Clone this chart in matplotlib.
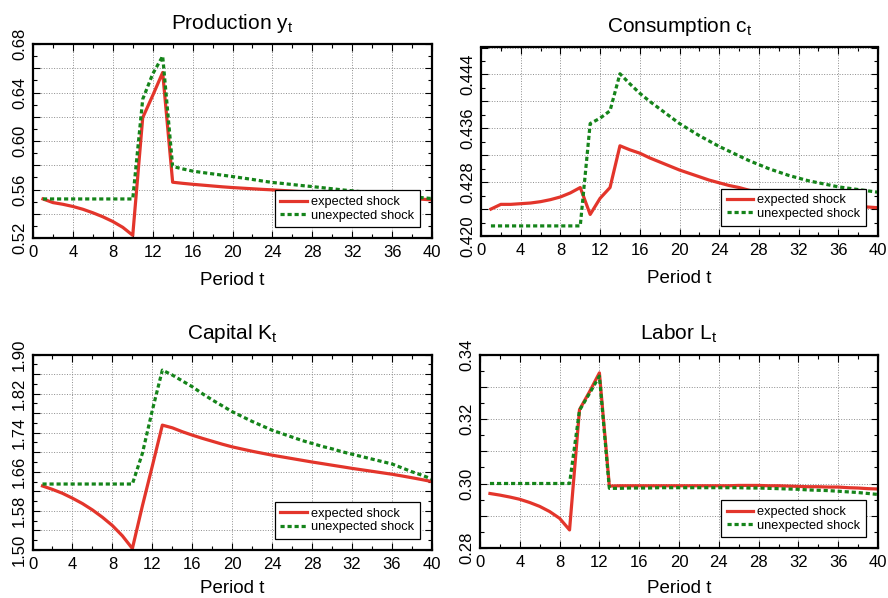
import matplotlib
matplotlib.use('Agg')   # no display
import matplotlib.pyplot as plt
from matplotlib.ticker import MultipleLocator
import numpy as np

plt.rcParams['font.family'] = ['Liberation Sans', 'DejaVu Sans']

periods = np.arange(1, 41)

# Production y_t
prod_expected = [0.5522, 0.5492, 0.5478, 0.5460, 0.5437, 0.5408, 0.5375, 0.5336, 0.5288, 0.5222,
                 0.6193, 0.6375, 0.6565, 0.5660, 0.5651, 0.5643, 0.5636, 0.5629, 0.5622, 0.5616,
                 0.5611, 0.5606, 0.5601, 0.5597, 0.5592, 0.5587, 0.5582, 0.5577, 0.5572, 0.5567,
                 0.5562, 0.5557, 0.5552, 0.5547, 0.5542, 0.5537, 0.5532, 0.5526, 0.5520, 0.5514]
prod_unexpected = [0.5522, 0.5522, 0.5522, 0.5522, 0.5522, 0.5522, 0.5522, 0.5522, 0.5522, 0.5522,
                   0.6345, 0.6553, 0.6700, 0.5790, 0.5770, 0.5752, 0.5740, 0.5729, 0.5718, 0.5707,
                   0.5695, 0.5683, 0.5670, 0.5658, 0.5650, 0.5641, 0.5632, 0.5624, 0.5615, 0.5606,
                   0.5597, 0.5589, 0.5581, 0.5573, 0.5565, 0.5557, 0.5549, 0.5541, 0.5533, 0.5525]

# Consumption c_t
cons_expected = [0.4240, 0.4247, 0.4247, 0.4248, 0.4249, 0.4251, 0.4254, 0.4258, 0.4264, 0.4272,
                 0.4232, 0.4256, 0.4272, 0.4334, 0.4328, 0.4323, 0.4316, 0.4310, 0.4304, 0.4298,
                 0.4293, 0.4288, 0.4283, 0.4279, 0.4275, 0.4272, 0.4268, 0.4265, 0.4262, 0.4259,
                 0.4257, 0.4255, 0.4253, 0.4251, 0.4249, 0.4247, 0.4246, 0.4244, 0.4243, 0.4242]
cons_unexpected = [0.4215, 0.4215, 0.4215, 0.4215, 0.4215, 0.4215, 0.4215, 0.4215, 0.4215, 0.4215,
                   0.4367, 0.4375, 0.4386, 0.4441, 0.4426, 0.4412, 0.4400, 0.4389, 0.4378, 0.4367,
                   0.4358, 0.4349, 0.4341, 0.4333, 0.4326, 0.4319, 0.4312, 0.4306, 0.4300, 0.4295,
                   0.4290, 0.4286, 0.4282, 0.4279, 0.4276, 0.4273, 0.4271, 0.4269, 0.4267, 0.4265]

# Capital K_t
cap_expected = [1.631, 1.624, 1.616, 1.606, 1.595, 1.582, 1.567, 1.550, 1.529, 1.503,
                1.590, 1.672, 1.7555, 1.750, 1.742, 1.735, 1.7285, 1.7225, 1.7165, 1.711,
                1.7065, 1.702, 1.698, 1.694, 1.6905, 1.687, 1.6835, 1.680, 1.6768, 1.6735,
                1.6703, 1.667, 1.664, 1.661, 1.658, 1.655, 1.6515, 1.6478, 1.644, 1.640]
cap_unexpected = [1.635, 1.635, 1.635, 1.635, 1.635, 1.635, 1.635, 1.635, 1.635, 1.635,
                  1.6976, 1.786, 1.868, 1.858, 1.846, 1.834, 1.820, 1.807, 1.795, 1.783,
                  1.773, 1.763, 1.754, 1.745, 1.738, 1.731, 1.724, 1.718, 1.712, 1.707,
                  1.701, 1.696, 1.691, 1.686, 1.681, 1.676, 1.668, 1.660, 1.653, 1.645]

# Labor L_t
lab_expected = [0.2969, 0.2964, 0.2958, 0.2951, 0.2941, 0.2929, 0.2913, 0.2892, 0.2856, 0.3229,
                0.3284, 0.3343, 0.2992, 0.2993, 0.2993, 0.2993, 0.2993, 0.2993, 0.2993, 0.2993,
                0.2993, 0.2993, 0.2993, 0.2993, 0.2993, 0.2994, 0.2994, 0.2994, 0.2993, 0.2993,
                0.2992, 0.2991, 0.2990, 0.2990, 0.2989, 0.2989, 0.2987, 0.2986, 0.2984, 0.2983]
lab_unexpected = [0.3000, 0.3000, 0.3000, 0.3000, 0.3000, 0.3000, 0.3000, 0.3000, 0.3000, 0.3227,
                  0.3279, 0.3333, 0.2985, 0.2985, 0.2986, 0.2986, 0.2986, 0.2987, 0.2987, 0.2987,
                  0.2987, 0.2987, 0.2987, 0.2987, 0.2987, 0.2987, 0.2986, 0.2986, 0.2985, 0.2984,
                  0.2983, 0.2982, 0.2980, 0.2979, 0.2978, 0.2976, 0.2974, 0.2972, 0.2969, 0.2966]

red = '#e3352b'
green = '#15841a'

W, H = 888, 598
fig = plt.figure(figsize=(W / 100, H / 100), dpi=100)

def px_axes(left, top, right, bottom):
    return fig.add_axes([left / W, 1 - bottom / H, (right - left) / W, (bottom - top) / H])

panels = [
    # (rect, title, expected, unexpected, ylim, grid step, label every n-th, minor step, fmt, xlabel pad)
    ((33, 44, 432, 238), 'Production y$_\\mathregular{t}$', prod_expected, prod_unexpected,
     (0.52, 0.68), 0.02, 2, 0.01, '{:.2f}', 9),
    ((481, 47.5, 878, 236), 'Consumption c$_\\mathregular{t}$', cons_expected, cons_unexpected,
     (0.420, 0.448), 0.004, 2, 0.002, '{:.3f}', 9),
    ((32.5, 354.5, 432, 550), 'Capital K$_\\mathregular{t}$', cap_expected, cap_unexpected,
     (1.50, 1.90), 0.04, 2, 0.02, '{:.2f}', 6),
    ((480, 354.5, 878, 548), 'Labor L$_\\mathregular{t}$', lab_expected, lab_unexpected,
     (0.28, 0.34), 0.01, 2, 0.005, '{:.2f}', 7),
]

for rect, title, exp_vals, unexp_vals, ylim, gstep, every, mstep, fmt, xpad in panels:
    ax = px_axes(*rect)
    ax.plot(periods, exp_vals, color=red, lw=2.3, label='expected shock')
    ax.plot(periods, unexp_vals, color=green, lw=2.3, linestyle=(0, (1.3, 0.9)),
            label='unexpected shock')

    ax.set_xlim(0, 40)
    ax.xaxis.set_major_locator(MultipleLocator(4))
    ax.xaxis.set_minor_locator(MultipleLocator(2))

    # y grid every gstep starting at the lower limit, labels on every other one
    n_major = int(round((ylim[1] - ylim[0]) / gstep))
    yt = [ylim[0] + i * gstep for i in range(n_major + 1)]
    n_minor = int(round((ylim[1] - ylim[0]) / mstep))
    ax.set_yticks([ylim[0] + i * mstep for i in range(n_minor + 1)], minor=True)
    ax.set_yticks(yt)
    ax.set_yticklabels([fmt.format(v) if i % every == 0 else '' for i, v in enumerate(yt)])
    ax.set_ylim(*ylim)

    ax.grid(True, which='major', color='#8c8c8c', linestyle=':', linewidth=0.7)
    ax.set_axisbelow(True)
    ax.tick_params(which='both', direction='in', top=True, right=True, width=0.8)
    ax.tick_params(which='major', length=5)
    ax.tick_params(which='minor', length=3)
    ax.tick_params(axis='x', labelsize=12, pad=5)
    ax.tick_params(axis='y', labelsize=12, pad=4, labelrotation=90)
    for lbl in ax.get_yticklabels():
        lbl.set_va('center')
    for sp in ax.spines.values():
        sp.set_linewidth(1.6)

    ax.set_title(title, fontsize=15, pad=11)
    ax.set_xlabel('Period t', fontsize=13.5, labelpad=xpad)

    leg = ax.legend(loc='lower right', bbox_to_anchor=(0.97, 0.055), borderaxespad=0,
                    fontsize=9.2, labelspacing=0.12, borderpad=0.45, handlelength=2.1,
                    handletextpad=0.3, fancybox=False, framealpha=1.0, edgecolor='black')
    leg.get_frame().set_linewidth(0.9)

plt.savefig('out.png', dpi=100)
